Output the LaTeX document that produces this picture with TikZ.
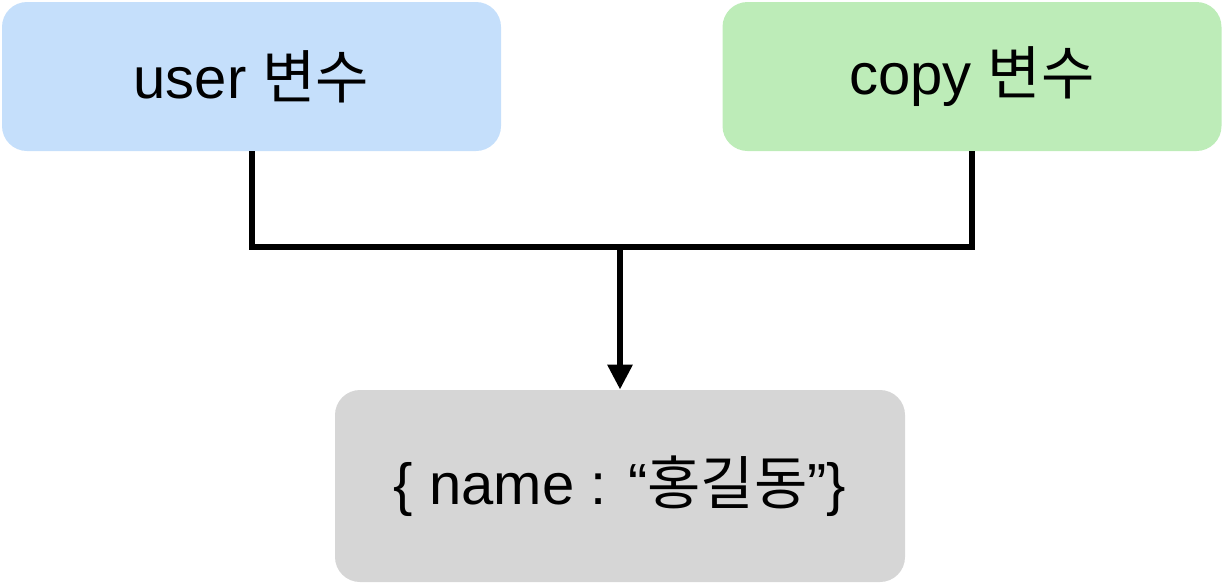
\documentclass[tikz,border=0pt]{standalone}
\usepackage{fontspec}
\setmainfont{Liberation Sans}
\newfontfamily\kor{Noto Sans CJK KR}
\usepackage{tikz}
\usetikzlibrary{arrows.meta,shapes}
\definecolor{userblue}{RGB}{197,223,251}
\definecolor{copygreen}{RGB}{189,236,184}
\definecolor{valgray}{RGB}{214,214,214}
\tikzstyle{var}=[rectangle, rounded corners=12.5pt
,minimum width=249.5pt
,minimum height=74.5pt
,inner sep=0pt
,font=\fontsize{29}{34}\selectfont
]
\tikzstyle{edge} = [draw,line width=3pt,-]

\begin{document}
\begin{tikzpicture}[x=0.5pt,y=-0.5pt]
    \useasboundingbox (0,0) rectangle (1224,584);
    % the two variables on top
    \foreach \pos/\name/\col/\txt in {{(251.5,76.5)/user/userblue/user}, {(972,76.5)/copy/copygreen/copy}}
        \node[var, fill=\col] (\name) at \pos {\txt\ {\kor 변수}};

    % the object they both point to
    \node[var, fill=valgray, minimum width=285pt, minimum height=96pt] (value) at (620,486)
        {\{ name : “{\kor 홍길동}”\}};

    \coordinate (join) at (620,247);

    % connect variables with the object
    \path[edge] (user.south) |- (join) -| (copy.south);
    \path[edge, -{Triangle[width=12pt,length=12.5pt]}] (join) -- (value.north);
\end{tikzpicture}
\end{document}
